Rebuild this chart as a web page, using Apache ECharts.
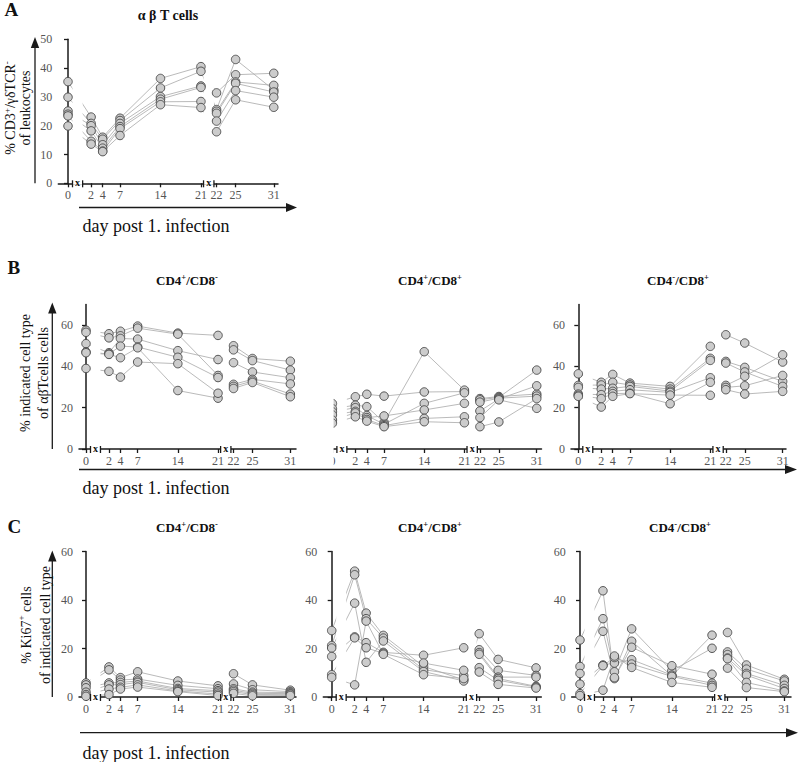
<!DOCTYPE html>
<html><head><meta charset="utf-8">
<script src="https://cdn.jsdelivr.net/npm/echarts@6.0.0/dist/echarts.min.js"></script>
<style>html,body{margin:0;padding:0;background:#fff}#c{width:800px;height:762px}</style>
</head><body><div id="c"></div>
<script>
// ---------- data ----------
const days = [0, 2, 4, 7, 14, 21, 22, 25, 31];
const dayLabels = ['0', '2', '4', '7', '14', '21', '22', '25', '31'];
const yTicksA = [0, 10, 20, 30, 40, 50];
const yTicksBC = [0, 20, 40, 60];

// Panel A: αβ T cells (% CD3+/γδTCR- of leukocytes), one row per animal
const abTcells = [
  [35.3, 23.0, 16.0, 22.6, 36.4, 40.5, 31.4, 37.7, 38.2],
  [29.9, 20.8, 15.3, 21.8, 33.1, 38.9, 25.6, 43.0, 32.4],
  [25.1, 20.0, 13.4, 20.8, 30.1, 33.8, 25.0, 35.2, 34.0],
  [24.0, 18.2, 12.2, 19.7, 29.2, 33.3, 24.3, 34.7, 31.7],
  [23.4, 14.6, 11.2, 19.0, 28.3, 28.4, 21.6, 32.2, 29.9],
  [19.9, 13.6, 11.0, 16.6, 27.3, 26.3, 17.9, 29.0, 26.4]
];
// Panel B: % indicated cell type of αβ T cells
const bCD4 = [
  [57.5, 55.8, 57.0, 59.5, 56.1, 55.0, 50.0, 43.8, 42.5],
  [56.5, 53.8, 54.8, 58.5, 55.6, 35.6, 48.0, 42.8, 38.2],
  [51.0, 46.6, 53.5, 53.2, 47.6, 43.3, 41.8, 37.3, 34.5],
  [47.0, 46.0, 49.8, 49.4, 44.4, 34.6, 31.3, 33.7, 31.5],
  [46.6, 45.8, 44.2, 49.0, 28.3, 24.6, 30.3, 32.9, 26.6],
  [39.0, 37.6, 34.8, 42.1, 41.3, 27.0, 29.3, 32.2, 25.3]
];
const bDP = [
  [22.0, 25.3, 26.5, 25.6, 27.6, 27.8, 24.4, 25.4, 26.6],
  [19.5, 21.2, 20.5, 12.9, 47.1, 28.5, 23.8, 25.0, 38.2],
  [18.0, 20.0, 16.2, 12.0, 22.1, 27.2, 22.7, 24.6, 25.6],
  [16.5, 18.2, 15.2, 16.0, 18.9, 22.1, 18.4, 24.2, 30.6],
  [14.0, 17.5, 14.3, 11.3, 14.8, 15.6, 15.2, 23.8, 19.7],
  [12.5, 15.6, 13.5, 10.8, 13.2, 12.7, 10.8, 13.1, 24.4]
];
const bCD8 = [
  [36.4, 32.3, 36.1, 31.9, 30.3, 49.7, 55.3, 51.3, 42.1],
  [30.8, 31.0, 32.3, 31.0, 29.0, 43.9, 42.4, 39.5, 32.7],
  [29.8, 29.0, 29.4, 30.3, 28.0, 42.9, 41.6, 37.3, 30.3],
  [26.6, 26.3, 27.9, 28.7, 27.4, 34.5, 30.8, 35.2, 45.6],
  [26.0, 24.4, 26.8, 27.0, 21.9, 32.3, 29.8, 30.6, 35.6],
  [25.5, 20.3, 25.5, 26.8, 26.1, 26.0, 28.7, 26.6, 27.9]
];
// Panel C: % Ki67+ cells of indicated cell type
const cCD4 = [
  [5.8, 12.4, 8.0, 10.4, 6.6, 4.6, 9.6, 5.0, 2.8],
  [5.0, 11.2, 7.0, 7.4, 4.8, 3.4, 5.4, 3.0, 2.2],
  [3.8, 5.8, 6.0, 6.6, 3.5, 2.6, 3.4, 2.0, 1.8],
  [2.0, 5.0, 5.1, 6.0, 3.0, 2.0, 2.8, 1.5, 1.4],
  [1.0, 3.3, 4.0, 5.0, 2.5, 1.2, 2.2, 1.0, 1.1],
  [0.3, 1.0, 3.3, 4.1, 2.2, 0.6, 1.5, 0.5, 0.6]
];
const cDP = [
  [27.4, 51.9, 34.6, 25.4, 12.6, 7.1, 26.1, 15.5, 12.0],
  [21.2, 50.4, 32.3, 24.3, 11.3, 8.8, 19.5, 11.0, 8.9],
  [20.2, 38.7, 14.3, 23.1, 10.5, 6.6, 18.3, 8.2, 8.2],
  [16.7, 24.8, 22.4, 18.4, 17.2, 20.3, 17.6, 7.6, 4.4],
  [9.2, 24.4, 20.3, 18.0, 14.0, 11.0, 12.1, 6.9, 4.1],
  [8.1, 5.0, 31.3, 17.6, 9.2, 7.6, 10.3, 5.2, 3.7]
];
const cCD8 = [
  [23.5, 43.8, 7.6, 23.0, 8.7, 25.5, 26.6, 13.2, 7.3],
  [12.6, 32.3, 10.4, 28.1, 10.8, 20.1, 18.6, 11.5, 6.6],
  [9.7, 27.1, 8.0, 20.5, 12.9, 9.4, 17.5, 9.7, 4.8],
  [5.3, 13.2, 14.0, 15.4, 9.0, 5.7, 16.1, 9.0, 3.5],
  [1.4, 12.9, 16.3, 13.6, 8.5, 4.8, 15.8, 6.0, 2.5],
  [0.6, 2.8, 16.9, 12.2, 6.0, 4.0, 11.9, 3.9, 2.2]
];

// ---------- broken x axis (0 | 2..21 | 22..31) ----------
const OFF1 = 2.0, OFF2 = 3.7, K3 = 1.1;
function pos(d) {
  if (d < 1) return d;
  if (d < 21.5) return d + OFF1;
  return 22 + OFF2 + (d - 22) * K3;
}
const tickPos = days.map(pos);
function labelFor(v) {
  for (let i = 0; i < tickPos.length; i++) if (Math.abs(tickPos[i] - v) < 1e-6) return dayLabels[i];
  return '';
}

const FONT = 'Liberation Serif';
const AX = '#1a1a1a';

const panels = [
  { data: abTcells, left: 58.3, top: 39.3, width: 219.7, height: 144, day0: 68, scale: 5.78, ymax: 50, ticks: yTicksA, showY: true },
  { data: bCD4, left: 79, top: 304.4, width: 217, height: 144.6, day0: 86, scale: 5.74, ymax: 70, ticks: yTicksBC, showY: true },
  { data: bDP, left: 323.5, top: 304.4, width: 218, height: 144.6, day0: 332.4, scale: 5.74, ymax: 70, ticks: yTicksBC, showY: false, crop: true },
  { data: bCD8, left: 571, top: 304.4, width: 215, height: 144.6, day0: 578.3, scale: 5.74, ymax: 70, ticks: yTicksBC, showY: true },
  { data: cCD4, left: 79, top: 551.5, width: 217, height: 145.5, day0: 86, scale: 5.74, ymax: 60, ticks: yTicksBC, showY: true },
  { data: cDP, left: 323.3, top: 551.5, width: 218, height: 145.5, day0: 331.7, scale: 5.74, ymax: 60, ticks: yTicksBC, showY: true },
  { data: cCD8, left: 571.7, top: 551.5, width: 219.3, height: 145.5, day0: 580, scale: 5.74, ymax: 60, ticks: yTicksBC, showY: true }
];

const grid = [], xAxis = [], yAxis = [], series = [];
panels.forEach((p, i) => {
  const xmin = -(p.day0 - p.left) / p.scale;
  const xmax = xmin + p.width / p.scale;
  grid.push({ left: p.left, top: p.top, width: p.width, height: p.height, containLabel: false });
  xAxis.push({
    type: 'value', gridIndex: i, min: xmin, max: xmax,
    splitLine: { show: false },
    axisLine: { lineStyle: { color: AX, width: 1.5 } },
    axisTick: { customValues: tickPos, length: 4, lineStyle: { color: AX, width: 1.3 } },
    axisLabel: { customValues: tickPos, formatter: labelFor, fontFamily: FONT, fontSize: 12, color: '#555', margin: 6 }
  });
  yAxis.push({
    type: 'value', gridIndex: i, min: 0, max: p.ymax, show: p.showY,
    splitLine: { show: false },
    axisLine: { show: true, lineStyle: { color: AX, width: 1.5 } },
    axisTick: { show: true, customValues: p.ticks, length: 4, lineStyle: { color: AX, width: 1.3 } },
    axisLabel: { customValues: p.ticks, fontFamily: FONT, fontSize: 12, color: '#555', margin: 6 }
  });
  const pts = [];
  p.data.forEach((row) => {
    const d = row.map((v, k) => [pos(days[k]), v]);
    series.push({
      type: 'line', xAxisIndex: i, yAxisIndex: i, data: d, showSymbol: false, z: 2,
      lineStyle: { color: '#a8a8a8', width: 0.8 }, silent: true, animation: false
    });
    d.forEach(q => pts.push(q));
  });
  series.push({
    type: 'scatter', xAxisIndex: i, yAxisIndex: i, data: pts, z: 4,
    symbol: 'circle', symbolSize: 8.5,
    itemStyle: { color: '#cccccc', borderColor: '#474747', borderWidth: 0.9, opacity: 1 },
    silent: true, animation: false
  });
});

const chart = echarts.init(document.getElementById('c'), null, { renderer: 'svg' });
chart.setOption({ animation: false, backgroundColor: '#fff', grid, xAxis, yAxis, series });

// ---------- decorations ----------
const g = [];
function line(x1, y1, x2, y2, w, z, c) {
  g.push({ type: 'line', z: z || 1, shape: { x1, y1, x2, y2 }, style: { stroke: c || AX, lineWidth: w || 1.3 }, silent: true });
}
function tri(pts, z) {
  g.push({ type: 'polygon', z: z || 1, shape: { points: pts }, style: { fill: AX }, silent: true });
}
function txt(x, y, text, opt) {
  g.push(Object.assign({ type: 'text', x, y, z: 6, silent: true,
    style: Object.assign({ text, fontFamily: FONT, fontSize: 14, fill: '#111', align: 'left', verticalAlign: 'middle' }, opt.style || {}) }, opt.el || {}));
}

panels.forEach((p, i) => {
  const px = v => chart.convertToPixel({ gridIndex: i }, [v, 0]);
  const [x0, yAxisPx] = px(pos(0));
  const x2 = px(pos(2))[0], x21 = px(pos(21))[0], x22 = px(pos(22))[0];
  const gaps = [[x0 + 4.5, x2 - 8.5], [x21 + 2.6, x22 - 2.6]];
  gaps.forEach(([a, b]) => {
    g.push({ type: 'rect', z: 3, shape: { x: a, y: p.top - 6, width: b - a, height: yAxisPx - p.top + 7.5 }, style: { fill: '#fff' }, silent: true });
    line(a, yAxisPx - 3, a, yAxisPx + 4, 1.3, 5);
    line(b, yAxisPx - 3, b, yAxisPx + 4, 1.3, 5);
    g.push({ type: 'text', z: 5, x: (a + b) / 2, y: yAxisPx - 1, silent: true,
      style: { text: 'x', fontFamily: FONT, fontWeight: 'bold', fontSize: 10, fill: '#111', align: 'center', verticalAlign: 'middle' } });
  });
  if (p.crop) {
    g.push({ type: 'rect', z: 10, shape: { x: p.left - 24, y: p.top - 10, width: x0 + 1.2 - (p.left - 24), height: p.height + 28 }, style: { fill: '#fff' }, silent: true });
  }
});

// axis arrows
line(35, 183.3, 35, 46); tri([[35, 37], [30.8, 48], [39.2, 48]]);
line(79, 207.5, 288, 207.5); tri([[297, 207.5], [286, 203], [286, 212]]);
line(52.3, 449, 52.3, 311); tri([[52.3, 302.5], [48.1, 313.5], [56.5, 313.5]]);
line(79, 469.5, 786, 469.5); tri([[797, 469.5], [785, 465], [785, 474]]);
line(52.3, 697, 52.3, 560); tri([[52.3, 550.5], [48.1, 561.5], [56.5, 561.5]]);
line(80, 732.7, 787, 732.7); tri([[798, 732.7], [786, 728.2], [786, 737.2]]);

// panel letters
txt(4.5, 9.5, 'A', { style: { fontWeight: 'bold', fontSize: 19 } });
txt(7.5, 267.5, 'B', { style: { fontWeight: 'bold', fontSize: 19 } });
txt(7.5, 526, 'C', { style: { fontWeight: 'bold', fontSize: 19 } });

// titles
const richT = {
  b: { fontFamily: FONT, fontWeight: 'bold', fontSize: 13, fill: '#111', lineHeight: 16 },
  s: { fontFamily: FONT, fontWeight: 'bold', fontSize: 8.5, fill: '#111', verticalAlign: 'top', lineHeight: 16 }
};
function ttl(x, y, t) {
  txt(x, y, t, { style: { align: 'center', rich: richT } });
}
txt(168, 15, 'α β T cells', { style: { align: 'center', fontWeight: 'bold', fontSize: 14 } });
ttl(187, 280, '{b|CD4}{s|+}{b|/CD8}{s|-}');
ttl(430, 280, '{b|CD4}{s|+}{b|/CD8}{s|+}');
ttl(678, 280, '{b|CD4}{s|-}{b|/CD8}{s|+}');
ttl(187, 527, '{b|CD4}{s|+}{b|/CD8}{s|-}');
ttl(430, 527, '{b|CD4}{s|+}{b|/CD8}{s|+}');
ttl(680, 527, '{b|CD4}{s|-}{b|/CD8}{s|+}');

// y titles (rotated)
function richY(lh) {
  return {
    n: { fontFamily: FONT, fontSize: 14, fill: '#111', lineHeight: lh },
    s: { fontFamily: FONT, fontSize: 9, fill: '#111', verticalAlign: 'top', lineHeight: lh }
  };
}
txt(17.5, 108, '{n|% CD3}{s|+}{n|/γδTCR}{s|-}\n{n|of leukocytes}', { el: { rotation: Math.PI / 2 }, style: { align: 'center', rich: richY(15) } });
txt(34, 373, '{n|% indicated cell type}\n{n|of αβTcells cells}', { el: { rotation: Math.PI / 2 }, style: { align: 'center', rich: richY(18) } });
txt(35.5, 625, '{n|% Ki67}{s|+}{n| cells}\n{n|of indicated cell type}', { el: { rotation: Math.PI / 2 }, style: { align: 'center', rich: richY(19) } });

// x titles
txt(82.5, 225.5, 'day post 1. infection', { style: { fontSize: 18 } });
txt(82.5, 488, 'day post 1. infection', { style: { fontSize: 18 } });
txt(82.5, 752.5, 'day post 1. infection', { style: { fontSize: 18 } });

chart.setOption({ graphic: { elements: g } });
</script></body></html>
